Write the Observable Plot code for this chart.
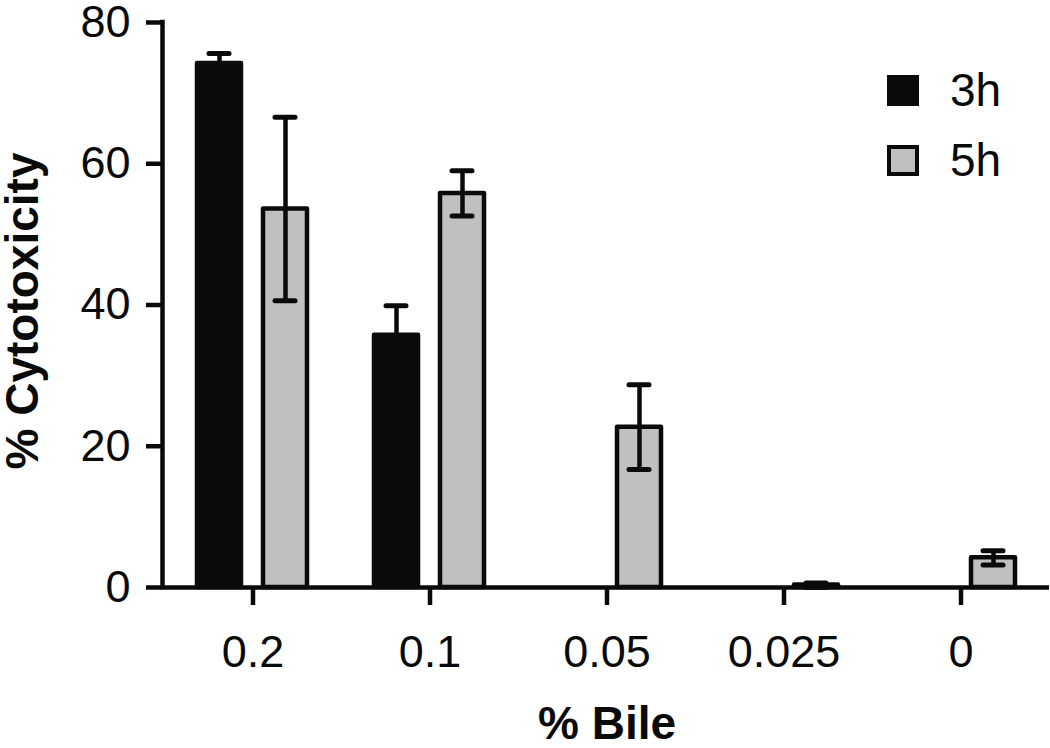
<!DOCTYPE html>
<html>
<head>
<meta charset="utf-8">
<script src="https://cdn.jsdelivr.net/npm/d3@7"></script>
<script src="https://cdn.jsdelivr.net/npm/@observablehq/plot@0.6"></script>
<style>
  html, body { margin: 0; padding: 0; background: #fff; }
  body { font-family: "Liberation Sans", Arial, Helvetica, sans-serif; color: #0a0a0a; }
  #wrap { position: relative; width: 1050px; height: 748px; }
  #wrap svg { overflow: visible; }
  #legend { position: absolute; left: 887px; top: 55px; }
  .item { display: flex; align-items: center; height: 70px; }
  .sw { width: 32px; height: 31px; box-sizing: border-box; }
  .lab { margin-left: 31px; font-size: 46px; line-height: 1; }
</style>
</head>
<body>
<div id="wrap"></div>
<script>
// ---- data ----
const bile = ["0.2", "0.1", "0.05", "0.025", "0"];
const times = ["3h", "5h"];
const mean3h = [74.2, 35.7, 0, 0, 0];
const err3h = [1.4, 4.2, 0, 0, 0];
const mean5h = [53.6, 55.8, 22.7, 0.35, 4.2];
const err5h = [13.0, 3.2, 6.0, 0.3, 1.0];
const yTicks = [0, 20, 40, 60, 80];
const yTitle = "% Cytotoxicity";
const xTitle = "% Bile";
const colors = ["#0a0a0a", "#c0c0c0"];

const data = bile.flatMap((b, i) => [
  {bile: b, time: times[0], value: mean3h[i], err: err3h[i]},
  {bile: b, time: times[1], value: mean5h[i], err: err5h[i]}
]);
const errs = data.filter(d => d.err > 0);

const ink = "#0a0a0a";
const chart = Plot.plot({
  width: 1050,
  height: 748,
  marginTop: 22,
  marginBottom: 161,
  marginLeft: 163,
  marginRight: 1,
  style: {fontFamily: '"Liberation Sans", Arial, Helvetica, sans-serif', background: "#fff", color: ink, overflow: "visible"},
  fx: {domain: bile, padding: 0, label: null},
  x: {domain: times, paddingInner: 0.33, paddingOuter: 0.49, axis: null},
  y: {domain: [0, 80], axis: null},
  color: {domain: times, range: colors},
  marks: [
    Plot.barY(data, {fx: "bile", x: "time", y: "value", fill: "time", stroke: ink, strokeWidth: 4.5, strokeLinejoin: "round"}),
    Plot.ruleX(errs, {fx: "bile", x: "time", y1: d => d.value - d.err, y2: d => d.value + d.err, stroke: ink, strokeWidth: 4.5}),
    Plot.tickY(errs, {fx: "bile", x: "time", y: d => d.value + d.err, insetLeft: 12, insetRight: 12, stroke: ink, strokeWidth: 5, strokeLinecap: "round"}),
    Plot.tickY(errs, {fx: "bile", x: "time", y: d => d.value - d.err, insetLeft: 12, insetRight: 12, stroke: ink, strokeWidth: 5, strokeLinecap: "round"}),
    Plot.ruleY([0], {stroke: ink, strokeWidth: 4.5}),
    Plot.axisFx({anchor: "bottom", tickSize: 18, tickPadding: 30, fontSize: 45, strokeWidth: 4.5, stroke: ink, fill: ink, label: null}),
    Plot.axisY({anchor: "left", ticks: yTicks, tickSize: 18, tickPadding: 16, fontSize: 45, strokeWidth: 4.5, stroke: ink, fill: ink, label: null}),
    Plot.text([yTitle], {fx: () => bile[0], text: d => d, frameAnchor: "left", textAnchor: "middle", lineAnchor: "middle", rotate: -90, dx: -141, dy: 6, fontSize: 46, fontWeight: "bold", fill: ink}),
    Plot.text([xTitle], {fx: () => bile[2], text: d => d, frameAnchor: "bottom", textAnchor: "middle", lineAnchor: "middle", dy: 137, fontSize: 46, fontWeight: "bold", fill: ink})
  ]
});

// y-axis line from the library's own scales
try {
  const fxs = chart.scale("fx");
  const ys = chart.scale("y");
  const left = (fxs && fxs.range) ? fxs.range[0] : 163;
  d3.select(chart).append("line")
    .attr("x1", left - 0.5).attr("x2", left - 0.5)
    .attr("y1", ys.apply(yTicks[0]) + 2.25)
    .attr("y2", ys.apply(yTicks[yTicks.length - 1]) - 2.25)
    .attr("stroke", ink).attr("stroke-width", 4.5);
} catch (e) { console.error(e); }

const wrap = document.getElementById("wrap");
wrap.appendChild(chart);

// legend overlay
const legend = document.createElement("div");
legend.id = "legend";
times.forEach((t, i) => {
  const item = document.createElement("div");
  item.className = "item";
  const sw = document.createElement("div");
  sw.className = "sw";
  sw.style.background = colors[i];
  if (i > 0) sw.style.border = "4.5px solid " + ink;
  const lab = document.createElement("span");
  lab.className = "lab";
  lab.textContent = t;
  item.appendChild(sw);
  item.appendChild(lab);
  legend.appendChild(item);
});
wrap.appendChild(legend);
</script>
</body>
</html>
